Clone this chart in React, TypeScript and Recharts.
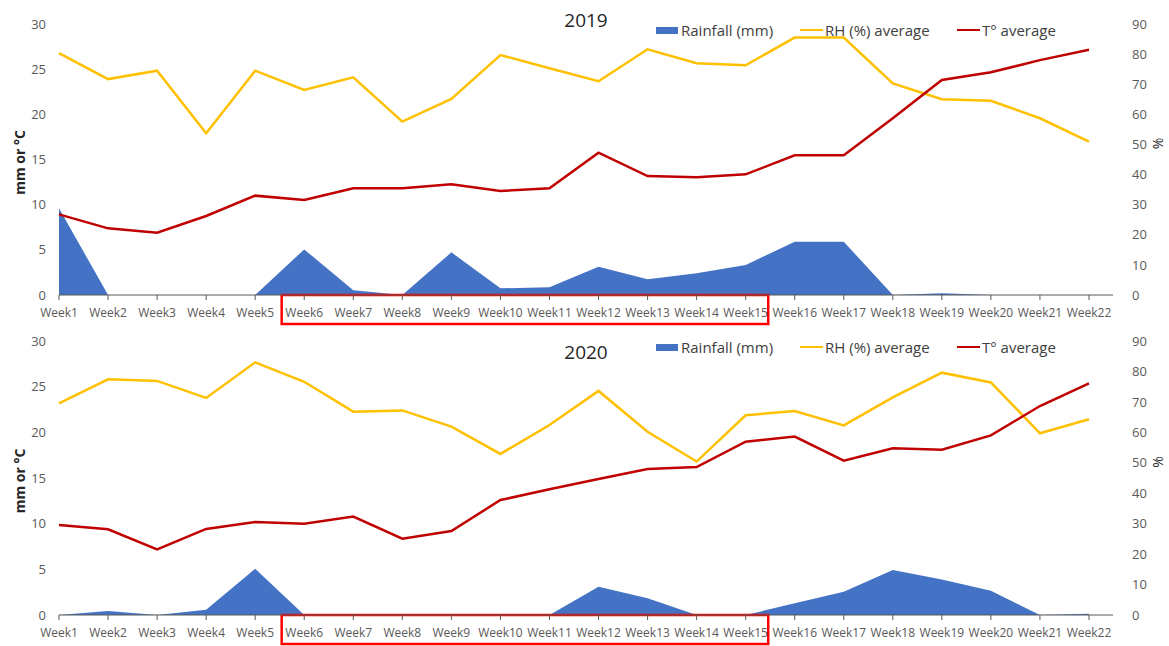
import React from 'react';
import { ComposedChart, Area, Line, XAxis, YAxis, Legend, ReferenceArea } from 'recharts';

// Weekly weather summaries for two seasons
const weeks = [
  'Week1', 'Week2', 'Week3', 'Week4', 'Week5', 'Week6', 'Week7', 'Week8', 'Week9', 'Week10', 'Week11',
  'Week12', 'Week13', 'Week14', 'Week15', 'Week16', 'Week17', 'Week18', 'Week19', 'Week20', 'Week21', 'Week22',
];

const rain2019 = [9.6, 0, 0, 0, 0, 5.05, 0.52, 0, 4.72, 0.74, 0.85, 3.14, 1.73, 2.4, 3.32, 5.9, 5.9, 0, 0.18, 0, 0, 0];
const rh2019 = [80.3, 71.7, 74.5, 53.7, 74.5, 68.1, 72.3, 57.6, 65.1, 79.7, 75.3, 71.0, 81.6, 77.0, 76.3, 85.5, 85.5, 70.3, 65.0, 64.5, 58.7, 50.9];
const temp2019 = [8.93, 7.38, 6.9, 8.75, 11.0, 10.52, 11.81, 11.81, 12.25, 11.51, 11.81, 15.76, 13.17, 13.03, 13.36, 15.46, 15.46, 19.56, 23.8, 24.65, 26.0, 27.16];

const rain2020 = [0, 0.44, 0, 0.58, 5.07, 0, 0, 0, 0, 0, 0, 3.1, 1.83, 0, 0, 1.28, 2.55, 4.93, 3.9, 2.66, 0, 0.15];
const rh2020 = [69.5, 77.4, 76.9, 71.3, 83.0, 76.6, 66.8, 67.2, 61.9, 52.9, 62.4, 73.6, 60.2, 50.4, 65.6, 67.0, 62.3, 71.5, 79.6, 76.4, 59.7, 64.3];
const temp2020 = [9.85, 9.38, 7.19, 9.42, 10.18, 10.0, 10.77, 8.36, 9.2, 12.59, 13.76, 14.89, 15.99, 16.2, 18.98, 19.53, 16.9, 18.25, 18.1, 19.67, 22.88, 25.37];

const leftTicks = [0, 5, 10, 15, 20, 25, 30];
const rightTicks = [0, 10, 20, 30, 40, 50, 60, 70, 80, 90];

// Weeks framed by the highlight box under the axis
const highlightFrom = 'Week6';
const highlightTo = 'Week15';

const RAIN_COLOR = '#4472C4';
const RH_COLOR = '#FFC000';
const TEMP_COLOR = '#C00000';
const AXIS_COLOR = '#595959';
const TEXT_COLOR = '#595959';

const CHART_WIDTH = 1169;
const LEFT_AXIS_W = 59;
const RIGHT_AXIS_W = 56;

const legendOrder = ['rain', 'rh', 'temp'];
const legendWidths: Record<string, number> = { rain: 144, rh: 157, temp: 110 };

function LegendContent(props: any) {
  const items = [...(props.payload || [])].sort(
    (a: any, b: any) => legendOrder.indexOf(String(a.dataKey)) - legendOrder.indexOf(String(b.dataKey)),
  );
  return (
    <div style={{ display: 'flex', alignItems: 'center', fontSize: 15, color: '#404040', lineHeight: '18px' }}>
      {items.map((it: any) => {
        const key = String(it.dataKey);
        const swatch =
          key === 'rain' ? (
            <span style={{ display: 'inline-block', width: 22, height: 7, background: it.color, marginRight: 3 }} />
          ) : (
            <span style={{ display: 'inline-block', width: 23, height: 2.5, background: it.color, marginRight: 2 }} />
          );
        return (
          <div key={key} style={{ display: 'flex', alignItems: 'center', width: legendWidths[key], whiteSpace: 'nowrap' }}>
            {swatch}
            <span>{it.value}</span>
          </div>
        );
      })}
    </div>
  );
}

function SideTitle({ viewBox, text, side }: any) {
  const { x, y, width, height } = viewBox;
  const cx = side === 'left' ? x + 25 : x + width - 6;
  const cy = y + height / 2 + (side === 'left' ? 3 : -16);
  return (
    <text
      x={cx}
      y={cy}
      transform={`rotate(-90 ${cx} ${cy})`}
      textAnchor="middle"
      fontSize={14}
      fontWeight={side === 'left' ? 700 : 400}
      fill="#262626"
    >
      {text}
    </text>
  );
}

function HighlightBox(props: any) {
  const { x, y, width, height } = props;
  const step = width / 9;
  const pad = step * 0.46;
  return (
    <rect
      x={x - pad}
      y={y + height}
      width={width + pad * 2}
      height={props.boxHeight}
      fill="none"
      stroke="#FF0000"
      strokeWidth={2.5}
    />
  );
}

interface PanelProps {
  title: string;
  rain: number[];
  rh: number[];
  temp: number[];
  top: number;
  height: number;
  marginTop: number;
  axisHeight: number;
  titleTop: number;
  legendTop: number;
  boxHeight: number;
}

function WeatherPanel(p: PanelProps) {
  const data = weeks.map((w, i) => ({ week: w, rain: p.rain[i], rh: p.rh[i], temp: p.temp[i] }));
  return (
    <div style={{ position: 'absolute', left: 0, top: p.top, width: CHART_WIDTH, height: p.height }}>
      <div
        style={{
          position: 'absolute',
          left: LEFT_AXIS_W,
          width: CHART_WIDTH - LEFT_AXIS_W - RIGHT_AXIS_W,
          top: p.titleTop,
          textAlign: 'center',
          fontSize: 19,
          lineHeight: '22px',
          color: '#262626',
        }}
      >
        {p.title}
      </div>
      <ComposedChart
        width={CHART_WIDTH}
        height={p.height}
        data={data}
        margin={{ top: p.marginTop, right: 0, bottom: 0, left: 0 }}
        style={{ overflow: 'visible' }}
      >
        <XAxis
          dataKey="week"
          scale="point"
          interval={0}
          padding={{ left: 0, right: 24 }}
          height={p.axisHeight}
          tickSize={5}
          tickMargin={8}
          axisLine={{ stroke: AXIS_COLOR, strokeWidth: 1 }}
          tickLine={{ stroke: AXIS_COLOR }}
          tick={{ fill: TEXT_COLOR, fontSize: 12 }}
        />
        <YAxis
          yAxisId="mm"
          orientation="left"
          width={LEFT_AXIS_W}
          domain={[0, 30]}
          ticks={leftTicks}
          axisLine={false}
          tickLine={false}
          tickMargin={7}
          tick={{ fill: TEXT_COLOR, fontSize: 13 }}
          label={(lp: any) => <SideTitle viewBox={lp.viewBox} text="mm or °C" side="left" />}
        />
        <YAxis
          yAxisId="pct"
          orientation="right"
          width={RIGHT_AXIS_W}
          domain={[0, 90]}
          ticks={rightTicks}
          axisLine={false}
          tickLine={false}
          tickMargin={13}
          tick={{ fill: TEXT_COLOR, fontSize: 13 }}
          label={(lp: any) => <SideTitle viewBox={lp.viewBox} text="%" side="right" />}
        />
        <Legend
          layout="horizontal"
          verticalAlign="middle"
          align="center"
          wrapperStyle={{ left: 656, top: p.legendTop, width: 'auto' }}
          content={<LegendContent />}
        />
        <Area
          yAxisId="mm"
          dataKey="rain"
          name="Rainfall (mm)"
          type="linear"
          fill={RAIN_COLOR}
          fillOpacity={1}
          stroke="none"
          isAnimationActive={false}
        />
        <Line
          yAxisId="pct"
          dataKey="rh"
          name="RH (%) average"
          type="linear"
          stroke={RH_COLOR}
          strokeWidth={2.5}
          dot={false}
          activeDot={false}
          isAnimationActive={false}
        />
        <Line
          yAxisId="mm"
          dataKey="temp"
          name="T° average"
          type="linear"
          stroke={TEMP_COLOR}
          strokeWidth={2.5}
          dot={false}
          activeDot={false}
          isAnimationActive={false}
        />
        <ReferenceArea
          yAxisId="mm"
          x1={highlightFrom}
          x2={highlightTo}
          y1={0}
          y2={30}
          ifOverflow="visible"
          shape={(sp: any) => <HighlightBox {...sp} boxHeight={p.boxHeight} />}
        />
      </ComposedChart>
    </div>
  );
}

export default function App() {
  return (
    <div
      style={{
        position: 'absolute',
        left: 0,
        top: 0,
        width: CHART_WIDTH,
        height: 646,
        background: '#ffffff',
        fontFamily: '"Open Sans", sans-serif',
        overflow: 'hidden',
      }}
    >
      <WeatherPanel
        title="2019"
        rain={rain2019}
        rh={rh2019}
        temp={temp2019}
        top={0}
        height={326}
        marginTop={24}
        axisHeight={31}
        titleTop={9}
        legendTop={21}
        boxHeight={29}
      />
      <WeatherPanel
        title="2020"
        rain={rain2020}
        rh={rh2020}
        temp={temp2020}
        top={326}
        height={320}
        marginTop={15}
        axisHeight={31}
        titleTop={15}
        legendTop={12}
        boxHeight={29}
      />
    </div>
  );
}
